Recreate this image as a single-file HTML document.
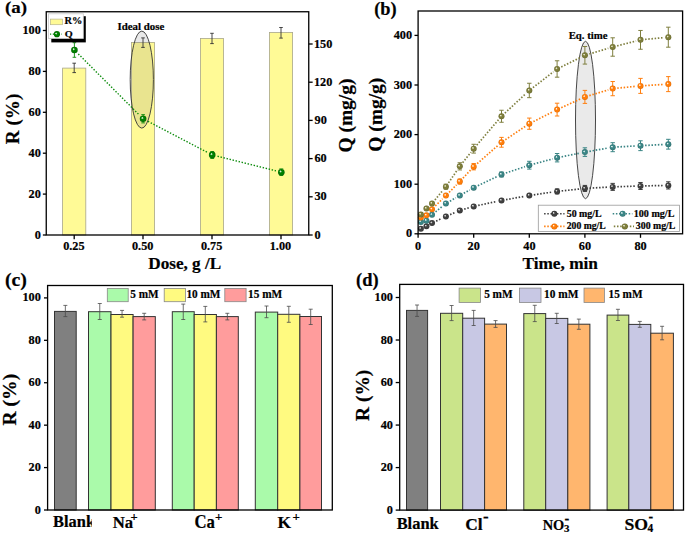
<!DOCTYPE html>
<html><head><meta charset="utf-8"><style>
html,body{margin:0;padding:0;background:#fff;}
svg{display:block;font-family:"Liberation Serif", serif;font-weight:bold;} text{stroke:#000;stroke-width:0.2px;}
</style></head><body>
<svg width="685" height="534" viewBox="0 0 685 534">
<rect width="685" height="534" fill="#fff"/>
<defs><radialGradient id="gg" cx="0.5" cy="0.5" r="0.5" fx="0.34" fy="0.34"><stop offset="0" stop-color="#d8ecd8"/><stop offset="0.12" stop-color="#d8ecd8"/><stop offset="0.4" stop-color="#008000"/><stop offset="0.75" stop-color="#008000"/><stop offset="1" stop-color="#006000"/></radialGradient><radialGradient id="g300" cx="0.5" cy="0.5" r="0.5" fx="0.34" fy="0.34"><stop offset="0" stop-color="#e8e8d0"/><stop offset="0.12" stop-color="#e8e8d0"/><stop offset="0.4" stop-color="#7d7d3a"/><stop offset="0.75" stop-color="#7d7d3a"/><stop offset="1" stop-color="#66662c"/></radialGradient><radialGradient id="g200" cx="0.5" cy="0.5" r="0.5" fx="0.34" fy="0.34"><stop offset="0" stop-color="#fff0e0"/><stop offset="0.12" stop-color="#fff0e0"/><stop offset="0.4" stop-color="#ff7d0a"/><stop offset="0.75" stop-color="#ff7d0a"/><stop offset="1" stop-color="#e06800"/></radialGradient><radialGradient id="g100" cx="0.5" cy="0.5" r="0.5" fx="0.34" fy="0.34"><stop offset="0" stop-color="#e0f0f0"/><stop offset="0.12" stop-color="#e0f0f0"/><stop offset="0.4" stop-color="#3a8585"/><stop offset="0.75" stop-color="#3a8585"/><stop offset="1" stop-color="#2d6d6d"/></radialGradient><radialGradient id="g50" cx="0.5" cy="0.5" r="0.5" fx="0.34" fy="0.34"><stop offset="0" stop-color="#d8d8d8"/><stop offset="0.12" stop-color="#d8d8d8"/><stop offset="0.4" stop-color="#404040"/><stop offset="0.75" stop-color="#404040"/><stop offset="1" stop-color="#303030"/></radialGradient></defs>
<rect x="62.60" y="68.10" width="23.20" height="166.90" fill="#FFFA96" stroke="#A8A68A" stroke-width="0.8" />
<rect x="131.40" y="42.40" width="23.20" height="192.60" fill="#FFFA96" stroke="#A8A68A" stroke-width="0.8" />
<rect x="200.40" y="38.50" width="23.20" height="196.50" fill="#FFFA96" stroke="#A8A68A" stroke-width="0.8" />
<rect x="269.40" y="32.50" width="23.20" height="202.50" fill="#FFFA96" stroke="#A8A68A" stroke-width="0.8" />
<ellipse cx="141.8" cy="79.6" rx="11.6" ry="48.5" fill="rgba(110,110,110,0.15)" stroke="#333" stroke-width="0.9"/>
<path d="M74.20 63.20V72.60M72.40 63.20h3.60M72.40 72.60h3.60" stroke="#333" stroke-width="0.9" fill="none"/>
<path d="M143.00 37.90V47.40M141.20 37.90h3.60M141.20 47.40h3.60" stroke="#333" stroke-width="0.9" fill="none"/>
<path d="M212.00 33.30V43.60M210.20 33.30h3.60M210.20 43.60h3.60" stroke="#333" stroke-width="0.9" fill="none"/>
<path d="M281.00 27.50V38.10M279.20 27.50h3.60M279.20 38.10h3.60" stroke="#333" stroke-width="0.9" fill="none"/>
<path d="M78.29 53.89L139.21 114.91M147.97 121.35L207.33 152.35M217.54 156.24L275.96 170.86" fill="none" stroke="#0A8A0A" stroke-width="1.4" stroke-dasharray="1.4 1.7"/>
<path d="M74.40 42.70V57.30M72.60 42.70h3.60M72.60 57.30h3.60" stroke="#0A8A0A" stroke-width="0.9" fill="none"/>
<path d="M143.10 114.60V122.90M141.30 114.60h3.60M141.30 122.90h3.60" stroke="#0A8A0A" stroke-width="0.9" fill="none"/>
<path d="M212.20 151.50V158.50M210.25 151.50h3.90M210.25 158.50h3.90" stroke="#0A8A0A" stroke-width="0.9" fill="none"/>
<path d="M281.30 168.90V175.50M279.35 168.90h3.90M279.35 175.50h3.90" stroke="#0A8A0A" stroke-width="0.9" fill="none"/>
<circle cx="74.40" cy="50.00" r="3.3" fill="url(#gg)"/>
<circle cx="143.10" cy="118.80" r="3.3" fill="url(#gg)"/>
<circle cx="212.20" cy="154.90" r="3.3" fill="url(#gg)"/>
<circle cx="281.30" cy="172.20" r="3.3" fill="url(#gg)"/>
<rect x="46.25" y="11.75" width="262.50" height="223.25" fill="none" stroke="#000" stroke-width="1.3" />
<line x1="42.85" y1="235.00" x2="46.25" y2="235.00" stroke="#000" stroke-width="1.3" />
<text transform="translate(34.75,238.52) scale(1.0400,1)" font-size="11.80" >0</text>
<line x1="42.85" y1="194.10" x2="46.25" y2="194.10" stroke="#000" stroke-width="1.3" />
<text transform="translate(28.62,197.62) scale(1.0400,1)" font-size="11.80" >20</text>
<line x1="42.85" y1="153.20" x2="46.25" y2="153.20" stroke="#000" stroke-width="1.3" />
<text transform="translate(28.62,156.72) scale(1.0400,1)" font-size="11.80" >40</text>
<line x1="42.85" y1="112.30" x2="46.25" y2="112.30" stroke="#000" stroke-width="1.3" />
<text transform="translate(28.62,115.82) scale(1.0400,1)" font-size="11.80" >60</text>
<line x1="42.85" y1="71.40" x2="46.25" y2="71.40" stroke="#000" stroke-width="1.3" />
<text transform="translate(28.62,74.92) scale(1.0400,1)" font-size="11.80" >80</text>
<line x1="42.85" y1="30.50" x2="46.25" y2="30.50" stroke="#000" stroke-width="1.3" />
<text transform="translate(22.48,34.02) scale(1.0400,1)" font-size="11.80" >100</text>
<line x1="308.75" y1="235.00" x2="312.65" y2="235.00" stroke="#000" stroke-width="1.3" />
<text transform="translate(314.41,238.52) scale(1.0400,1)" font-size="11.80" >0</text>
<line x1="308.75" y1="196.80" x2="312.65" y2="196.80" stroke="#000" stroke-width="1.3" />
<text transform="translate(314.47,200.32) scale(1.0400,1)" font-size="11.80" >30</text>
<line x1="308.75" y1="158.60" x2="312.65" y2="158.60" stroke="#000" stroke-width="1.3" />
<text transform="translate(314.47,162.12) scale(1.0400,1)" font-size="11.80" >60</text>
<line x1="308.75" y1="120.40" x2="312.65" y2="120.40" stroke="#000" stroke-width="1.3" />
<text transform="translate(314.59,123.92) scale(1.0400,1)" font-size="11.80" >90</text>
<line x1="308.75" y1="82.20" x2="312.65" y2="82.20" stroke="#000" stroke-width="1.3" />
<text transform="translate(313.92,85.72) scale(1.0400,1)" font-size="11.80" >120</text>
<line x1="308.75" y1="44.00" x2="312.65" y2="44.00" stroke="#000" stroke-width="1.3" />
<text transform="translate(313.92,47.52) scale(1.0400,1)" font-size="11.80" >150</text>
<line x1="74.20" y1="235.00" x2="74.20" y2="239.20" stroke="#000" stroke-width="1.3" />
<text transform="translate(63.13,250.40) scale(1.0400,1)" font-size="11.80" >0.25</text>
<line x1="143.00" y1="235.00" x2="143.00" y2="239.20" stroke="#000" stroke-width="1.3" />
<text transform="translate(131.96,250.40) scale(1.0400,1)" font-size="11.80" >0.50</text>
<line x1="212.00" y1="235.00" x2="212.00" y2="239.20" stroke="#000" stroke-width="1.3" />
<text transform="translate(200.93,250.40) scale(1.0400,1)" font-size="11.80" >0.75</text>
<line x1="281.00" y1="235.00" x2="281.00" y2="239.20" stroke="#000" stroke-width="1.3" />
<text transform="translate(269.72,250.40) scale(1.0400,1)" font-size="11.80" >1.00</text>
<rect x="51.30" y="16.20" width="34.50" height="26.20" fill="#000" stroke="none" stroke-width="1" />
<rect x="48.40" y="13.80" width="34.90" height="24.70" fill="#fff" stroke="#c8c8c8" stroke-width="0.8" />
<rect x="50.40" y="19.10" width="12.20" height="5.60" fill="#FFFA96" stroke="#B8B690" stroke-width="0.7" />
<text transform="translate(64.45,23.90) scale(1.0713,1)" font-size="9.62" >R%</text>
<line x1="50" y1="34.2" x2="61.7" y2="34.2" stroke="#0A8A0A" stroke-width="1.2" stroke-dasharray="1.2 1.6"/>
<circle cx="56.90" cy="34.20" r="3.1" fill="url(#gg)"/>
<text transform="translate(64.69,36.80) scale(1.1241,1)" font-size="9.09" >Q</text>
<text transform="translate(117.42,29.80) scale(1.0107,1)" font-size="10.79" >Ideal dose</text>
<text transform="translate(4.95,13.30) scale(1.0729,1)" font-size="17.69" >(a)</text>
<text transform="translate(18.50,144.19) rotate(-90) scale(1.0316,1)" font-size="18.56" >R (%)</text>
<text transform="translate(148.24,268.70) scale(1.0503,1)" font-size="16.36" >Dose, g /L</text>
<text transform="translate(352.30,152.57) rotate(-90) scale(1.0031,1)" font-size="19.40" >Q (mg/g)</text>
<ellipse cx="585.5" cy="120" rx="10" ry="78.7" fill="rgba(150,150,150,0.2)" stroke="#333" stroke-width="0.9"/>
<text transform="translate(568.64,38.80)" font-size="10.79" >Eq. time</text>
<path d="M436.16 221.11L441.74 218.46M450.11 214.64L455.59 212.24M464.22 209.13L469.28 207.68M478.20 205.45L497.00 201.39M506.03 199.62L524.77 196.31M533.85 194.83L552.55 192.07M561.67 190.90L580.33 188.91M589.49 188.16L608.11 187.13M617.30 186.73L635.90 186.13M645.10 185.89L663.70 185.49" fill="none" stroke="#3F3F3F" stroke-width="1.7" stroke-dasharray="1.5 1.7"/>
<path d="M557.10 188.89V193.89M554.90 188.89h4.40M554.90 193.89h4.40" stroke="#3F3F3F" stroke-width="1.0" fill="none"/>
<path d="M584.90 185.42V191.42M582.70 185.42h4.40M582.70 191.42h4.40" stroke="#3F3F3F" stroke-width="1.0" fill="none"/>
<path d="M612.70 183.38V190.38M610.50 183.38h4.40M610.50 190.38h4.40" stroke="#3F3F3F" stroke-width="1.0" fill="none"/>
<path d="M640.50 182.49V189.49M638.30 182.49h4.40M638.30 189.49h4.40" stroke="#3F3F3F" stroke-width="1.0" fill="none"/>
<path d="M668.30 181.79V188.99M666.10 181.79h4.40M666.10 188.99h4.40" stroke="#3F3F3F" stroke-width="1.0" fill="none"/>
<circle cx="420.88" cy="228.69" r="3.0" fill="url(#g50)"/>
<circle cx="426.44" cy="226.21" r="3.0" fill="url(#g50)"/>
<circle cx="432.00" cy="223.09" r="3.0" fill="url(#g50)"/>
<circle cx="445.90" cy="216.49" r="3.0" fill="url(#g50)"/>
<circle cx="459.80" cy="210.39" r="3.0" fill="url(#g50)"/>
<circle cx="473.70" cy="206.42" r="3.0" fill="url(#g50)"/>
<circle cx="501.50" cy="200.42" r="3.0" fill="url(#g50)"/>
<circle cx="529.30" cy="195.51" r="3.0" fill="url(#g50)"/>
<circle cx="557.10" cy="191.39" r="3.0" fill="url(#g50)"/>
<circle cx="584.90" cy="188.42" r="3.0" fill="url(#g50)"/>
<circle cx="612.70" cy="186.88" r="3.0" fill="url(#g50)"/>
<circle cx="640.50" cy="185.99" r="3.0" fill="url(#g50)"/>
<circle cx="668.30" cy="185.39" r="3.0" fill="url(#g50)"/>
<path d="M435.56 211.88L442.34 206.31M449.91 201.15L455.79 197.86M463.79 193.33L469.71 189.95M477.86 185.70L497.34 176.45M505.86 173.02L524.94 166.66M533.74 164.01L552.66 158.91M561.61 156.80L580.39 153.02M589.43 151.31L608.17 148.00M617.29 146.95L635.91 145.96M645.09 145.46L663.71 144.47" fill="none" stroke="#3A8585" stroke-width="1.7" stroke-dasharray="1.5 1.7"/>
<path d="M501.50 171.98V176.98M499.30 171.98h4.40M499.30 176.98h4.40" stroke="#3A8585" stroke-width="1.0" fill="none"/>
<path d="M529.30 161.30V169.10M527.10 161.30h4.40M527.10 169.10h4.40" stroke="#3A8585" stroke-width="1.0" fill="none"/>
<path d="M557.10 153.51V161.91M554.90 153.51h4.40M554.90 161.91h4.40" stroke="#3A8585" stroke-width="1.0" fill="none"/>
<path d="M584.90 147.81V156.41M582.70 147.81h4.40M582.70 156.41h4.40" stroke="#3A8585" stroke-width="1.0" fill="none"/>
<path d="M612.70 142.70V151.70M610.50 142.70h4.40M610.50 151.70h4.40" stroke="#3A8585" stroke-width="1.0" fill="none"/>
<path d="M640.50 140.81V150.61M638.30 140.81h4.40M638.30 150.61h4.40" stroke="#3A8585" stroke-width="1.0" fill="none"/>
<path d="M668.30 139.32V149.12M666.10 139.32h4.40M666.10 149.12h4.40" stroke="#3A8585" stroke-width="1.0" fill="none"/>
<circle cx="420.88" cy="221.90" r="3.0" fill="url(#g100)"/>
<circle cx="426.44" cy="220.71" r="3.0" fill="url(#g100)"/>
<circle cx="432.00" cy="214.80" r="3.0" fill="url(#g100)"/>
<circle cx="445.90" cy="203.40" r="3.0" fill="url(#g100)"/>
<circle cx="459.80" cy="195.61" r="3.0" fill="url(#g100)"/>
<circle cx="473.70" cy="187.67" r="3.0" fill="url(#g100)"/>
<circle cx="501.50" cy="174.48" r="3.0" fill="url(#g100)"/>
<circle cx="529.30" cy="165.20" r="3.0" fill="url(#g100)"/>
<circle cx="557.10" cy="157.71" r="3.0" fill="url(#g100)"/>
<circle cx="584.90" cy="152.11" r="3.0" fill="url(#g100)"/>
<circle cx="612.70" cy="147.20" r="3.0" fill="url(#g100)"/>
<circle cx="640.50" cy="145.71" r="3.0" fill="url(#g100)"/>
<circle cx="668.30" cy="144.22" r="3.0" fill="url(#g100)"/>
<path d="M435.29 205.98L442.61 198.82M449.13 192.33L456.57 184.80M462.95 178.17L470.55 170.05M477.16 163.66L498.04 145.32M505.32 139.73L525.48 126.25M533.40 121.61L553.00 111.68M561.28 107.69L580.72 98.82M589.31 95.59L608.29 89.93M617.28 88.17L635.92 86.34M645.09 85.60L663.71 84.40" fill="none" stroke="#FF7F0F" stroke-width="1.7" stroke-dasharray="1.5 1.7"/>
<path d="M459.80 179.02V184.02M457.60 179.02h4.40M457.60 184.02h4.40" stroke="#FF7F0F" stroke-width="1.0" fill="none"/>
<path d="M473.70 163.49V169.89M471.50 163.49h4.40M471.50 169.89h4.40" stroke="#FF7F0F" stroke-width="1.0" fill="none"/>
<path d="M501.50 137.39V147.19M499.30 137.39h4.40M499.30 147.19h4.40" stroke="#FF7F0F" stroke-width="1.0" fill="none"/>
<path d="M529.30 118.09V129.29M527.10 118.09h4.40M527.10 129.29h4.40" stroke="#FF7F0F" stroke-width="1.0" fill="none"/>
<path d="M557.10 103.20V116.00M554.90 103.20h4.40M554.90 116.00h4.40" stroke="#FF7F0F" stroke-width="1.0" fill="none"/>
<path d="M584.90 90.40V103.40M582.70 90.40h4.40M582.70 103.40h4.40" stroke="#FF7F0F" stroke-width="1.0" fill="none"/>
<path d="M612.70 81.52V95.72M610.50 81.52h4.40M610.50 95.72h4.40" stroke="#FF7F0F" stroke-width="1.0" fill="none"/>
<path d="M640.50 78.39V93.39M638.30 78.39h4.40M638.30 93.39h4.40" stroke="#FF7F0F" stroke-width="1.0" fill="none"/>
<path d="M668.30 76.61V91.61M666.10 76.61h4.40M666.10 91.61h4.40" stroke="#FF7F0F" stroke-width="1.0" fill="none"/>
<circle cx="420.88" cy="217.43" r="3.0" fill="url(#g200)"/>
<circle cx="426.44" cy="215.30" r="3.0" fill="url(#g200)"/>
<circle cx="432.00" cy="209.20" r="3.0" fill="url(#g200)"/>
<circle cx="445.90" cy="195.61" r="3.0" fill="url(#g200)"/>
<circle cx="459.80" cy="181.52" r="3.0" fill="url(#g200)"/>
<circle cx="473.70" cy="166.69" r="3.0" fill="url(#g200)"/>
<circle cx="501.50" cy="142.29" r="3.0" fill="url(#g200)"/>
<circle cx="529.30" cy="123.69" r="3.0" fill="url(#g200)"/>
<circle cx="557.10" cy="109.60" r="3.0" fill="url(#g200)"/>
<circle cx="584.90" cy="96.90" r="3.0" fill="url(#g200)"/>
<circle cx="612.70" cy="88.62" r="3.0" fill="url(#g200)"/>
<circle cx="640.50" cy="85.89" r="3.0" fill="url(#g200)"/>
<circle cx="668.30" cy="84.11" r="3.0" fill="url(#g200)"/>
<path d="M434.93 199.99L442.97 190.23M448.50 182.88L457.20 170.14M462.65 162.73L470.85 152.30M476.69 145.19L498.51 119.74M504.87 113.12L525.93 93.58M532.94 87.64L553.46 71.79M561.23 66.95L580.77 57.32M589.31 53.98L608.29 48.32M617.16 45.86L636.04 41.01M645.08 39.42L663.72 37.63" fill="none" stroke="#7F7F3F" stroke-width="1.7" stroke-dasharray="1.5 1.7"/>
<path d="M445.90 184.18V189.18M443.70 184.18h4.40M443.70 189.18h4.40" stroke="#7F7F3F" stroke-width="1.0" fill="none"/>
<path d="M459.80 162.74V169.94M457.60 162.74h4.40M457.60 169.94h4.40" stroke="#7F7F3F" stroke-width="1.0" fill="none"/>
<path d="M473.70 144.29V153.09M471.50 144.29h4.40M471.50 153.09h4.40" stroke="#7F7F3F" stroke-width="1.0" fill="none"/>
<path d="M501.50 110.25V122.25M499.30 110.25h4.40M499.30 122.25h4.40" stroke="#7F7F3F" stroke-width="1.0" fill="none"/>
<path d="M529.30 83.26V97.66M527.10 83.26h4.40M527.10 97.66h4.40" stroke="#7F7F3F" stroke-width="1.0" fill="none"/>
<path d="M557.10 60.78V77.18M554.90 60.78h4.40M554.90 77.18h4.40" stroke="#7F7F3F" stroke-width="1.0" fill="none"/>
<path d="M584.90 46.49V64.09M582.70 46.49h4.40M582.70 64.09h4.40" stroke="#7F7F3F" stroke-width="1.0" fill="none"/>
<path d="M612.70 37.81V56.21M610.50 37.81h4.40M610.50 56.21h4.40" stroke="#7F7F3F" stroke-width="1.0" fill="none"/>
<path d="M640.50 30.46V49.26M638.30 30.46h4.40M638.30 49.26h4.40" stroke="#7F7F3F" stroke-width="1.0" fill="none"/>
<path d="M668.30 27.19V47.19M666.10 27.19h4.40M666.10 47.19h4.40" stroke="#7F7F3F" stroke-width="1.0" fill="none"/>
<circle cx="420.88" cy="214.46" r="3.0" fill="url(#g300)"/>
<circle cx="426.44" cy="208.50" r="3.0" fill="url(#g300)"/>
<circle cx="432.00" cy="203.54" r="3.0" fill="url(#g300)"/>
<circle cx="445.90" cy="186.68" r="3.0" fill="url(#g300)"/>
<circle cx="459.80" cy="166.34" r="3.0" fill="url(#g300)"/>
<circle cx="473.70" cy="148.69" r="3.0" fill="url(#g300)"/>
<circle cx="501.50" cy="116.25" r="3.0" fill="url(#g300)"/>
<circle cx="529.30" cy="90.46" r="3.0" fill="url(#g300)"/>
<circle cx="557.10" cy="68.98" r="3.0" fill="url(#g300)"/>
<circle cx="584.90" cy="55.29" r="3.0" fill="url(#g300)"/>
<circle cx="612.70" cy="47.01" r="3.0" fill="url(#g300)"/>
<circle cx="640.50" cy="39.86" r="3.0" fill="url(#g300)"/>
<circle cx="668.30" cy="37.19" r="3.0" fill="url(#g300)"/>
<rect x="538.30" y="205.20" width="141.20" height="26.30" fill="#fff" stroke="#999" stroke-width="0.8" />
<line x1="544.1" y1="213.7" x2="564.5" y2="213.7" stroke="#3F3F3F" stroke-width="1.6" stroke-dasharray="1.5 1.7"/>
<circle cx="554.30" cy="213.70" r="3.0" fill="url(#g50)"/>
<text transform="translate(566.70,216.70) scale(1.0341,1)" font-size="9.60" >50 mg/L</text>
<line x1="612.7" y1="213.7" x2="632.4" y2="213.7" stroke="#3A8585" stroke-width="1.6" stroke-dasharray="1.5 1.7"/>
<circle cx="622.60" cy="213.70" r="3.0" fill="url(#g100)"/>
<text transform="translate(633.79,216.70) scale(1.0510,1)" font-size="9.60" >100 mg/L</text>
<line x1="544.1" y1="226.4" x2="564.5" y2="226.4" stroke="#FF7F0F" stroke-width="1.6" stroke-dasharray="1.5 1.7"/>
<circle cx="554.30" cy="226.40" r="3.0" fill="url(#g200)"/>
<text transform="translate(566.71,229.40) scale(1.0113,1)" font-size="9.60" >200 mg/L</text>
<line x1="613.8" y1="226.4" x2="634" y2="226.4" stroke="#7F7F3F" stroke-width="1.6" stroke-dasharray="1.5 1.7"/>
<circle cx="624.80" cy="226.40" r="3.0" fill="url(#g300)"/>
<text transform="translate(635.86,229.40) scale(1.0232,1)" font-size="9.60" >300 mg/L</text>
<rect x="418.10" y="11.00" width="264.50" height="222.80" fill="none" stroke="#000" stroke-width="1.3" />
<line x1="414.50" y1="233.80" x2="418.10" y2="233.80" stroke="#000" stroke-width="1.3" />
<text transform="translate(405.95,237.32) scale(1.0400,1)" font-size="11.80" >0</text>
<line x1="414.50" y1="184.20" x2="418.10" y2="184.20" stroke="#000" stroke-width="1.3" />
<text transform="translate(393.68,187.72) scale(1.0400,1)" font-size="11.80" >100</text>
<line x1="414.50" y1="134.60" x2="418.10" y2="134.60" stroke="#000" stroke-width="1.3" />
<text transform="translate(393.68,138.12) scale(1.0400,1)" font-size="11.80" >200</text>
<line x1="414.50" y1="85.00" x2="418.10" y2="85.00" stroke="#000" stroke-width="1.3" />
<text transform="translate(393.68,88.52) scale(1.0400,1)" font-size="11.80" >300</text>
<line x1="414.50" y1="35.40" x2="418.10" y2="35.40" stroke="#000" stroke-width="1.3" />
<text transform="translate(393.68,38.92) scale(1.0400,1)" font-size="11.80" >400</text>
<line x1="418.10" y1="233.80" x2="418.10" y2="237.80" stroke="#000" stroke-width="1.3" />
<text transform="translate(415.03,250.00) scale(1.0400,1)" font-size="11.80" >0</text>
<line x1="473.70" y1="233.80" x2="473.70" y2="237.80" stroke="#000" stroke-width="1.3" />
<text transform="translate(467.56,250.00) scale(1.0400,1)" font-size="11.80" >20</text>
<line x1="529.30" y1="233.80" x2="529.30" y2="237.80" stroke="#000" stroke-width="1.3" />
<text transform="translate(523.32,250.00) scale(1.0400,1)" font-size="11.80" >40</text>
<line x1="584.90" y1="233.80" x2="584.90" y2="237.80" stroke="#000" stroke-width="1.3" />
<text transform="translate(578.79,250.00) scale(1.0400,1)" font-size="11.80" >60</text>
<line x1="640.50" y1="233.80" x2="640.50" y2="237.80" stroke="#000" stroke-width="1.3" />
<text transform="translate(634.39,250.00) scale(1.0400,1)" font-size="11.80" >80</text>
<text transform="translate(374.18,14.93) scale(1.0169,1)" font-size="18.02" >(b)</text>
<text transform="translate(522.44,269.20) scale(1.0265,1)" font-size="16.83" >Time, min</text>
<text transform="translate(381.60,151.77) rotate(-90) scale(1.0031,1)" font-size="19.40" >Q (mg/g)</text>
<rect x="54.50" y="311.40" width="21.70" height="198.60" fill="#808080" stroke="#333" stroke-width="1.0" />
<rect x="88.50" y="311.70" width="22.50" height="198.30" fill="#AAFAAA" stroke="#333" stroke-width="1.0" />
<rect x="111.00" y="314.50" width="22.10" height="195.50" fill="#FFFA80" stroke="#333" stroke-width="1.0" />
<rect x="133.10" y="316.60" width="22.20" height="193.40" fill="#FF9C9C" stroke="#333" stroke-width="1.0" />
<rect x="172.30" y="311.70" width="21.90" height="198.30" fill="#AAFAAA" stroke="#333" stroke-width="1.0" />
<rect x="194.20" y="314.50" width="22.20" height="195.50" fill="#FFFA80" stroke="#333" stroke-width="1.0" />
<rect x="216.40" y="316.60" width="21.90" height="193.40" fill="#FF9C9C" stroke="#333" stroke-width="1.0" />
<rect x="255.30" y="312.10" width="22.40" height="197.90" fill="#AAFAAA" stroke="#333" stroke-width="1.0" />
<rect x="277.70" y="314.30" width="22.20" height="195.70" fill="#FFFA80" stroke="#333" stroke-width="1.0" />
<rect x="299.90" y="316.50" width="21.60" height="193.50" fill="#FF9C9C" stroke="#333" stroke-width="1.0" />
<path d="M65.35 305.40V316.60M63.35 305.40h4.00M63.35 316.60h4.00" stroke="#4a4a4a" stroke-width="0.8" fill="none"/>
<path d="M99.75 303.50V319.50M97.75 303.50h4.00M97.75 319.50h4.00" stroke="#4a4a4a" stroke-width="0.8" fill="none"/>
<path d="M122.05 310.40V317.20M120.05 310.40h4.00M120.05 317.20h4.00" stroke="#4a4a4a" stroke-width="0.8" fill="none"/>
<path d="M144.20 313.30V319.90M142.20 313.30h4.00M142.20 319.90h4.00" stroke="#4a4a4a" stroke-width="0.8" fill="none"/>
<path d="M183.25 304.10V319.50M181.25 304.10h4.00M181.25 319.50h4.00" stroke="#4a4a4a" stroke-width="0.8" fill="none"/>
<path d="M205.30 306.40V321.90M203.30 306.40h4.00M203.30 321.90h4.00" stroke="#4a4a4a" stroke-width="0.8" fill="none"/>
<path d="M227.35 313.30V319.90M225.35 313.30h4.00M225.35 319.90h4.00" stroke="#4a4a4a" stroke-width="0.8" fill="none"/>
<path d="M266.50 306.00V317.70M264.50 306.00h4.00M264.50 317.70h4.00" stroke="#4a4a4a" stroke-width="0.8" fill="none"/>
<path d="M288.80 306.30V322.30M286.80 306.30h4.00M286.80 322.30h4.00" stroke="#4a4a4a" stroke-width="0.8" fill="none"/>
<path d="M310.70 309.20V324.50M308.70 309.20h4.00M308.70 324.50h4.00" stroke="#4a4a4a" stroke-width="0.8" fill="none"/>
<rect x="47.60" y="285.50" width="284.70" height="224.50" fill="none" stroke="#000" stroke-width="1.3" />
<line x1="44.00" y1="510.00" x2="47.60" y2="510.00" stroke="#000" stroke-width="1.3" />
<text transform="translate(34.75,513.52) scale(1.0400,1)" font-size="11.80" >0</text>
<line x1="44.00" y1="467.58" x2="47.60" y2="467.58" stroke="#000" stroke-width="1.3" />
<text transform="translate(28.62,471.10) scale(1.0400,1)" font-size="11.80" >20</text>
<line x1="44.00" y1="425.16" x2="47.60" y2="425.16" stroke="#000" stroke-width="1.3" />
<text transform="translate(28.62,428.68) scale(1.0400,1)" font-size="11.80" >40</text>
<line x1="44.00" y1="382.74" x2="47.60" y2="382.74" stroke="#000" stroke-width="1.3" />
<text transform="translate(28.62,386.26) scale(1.0400,1)" font-size="11.80" >60</text>
<line x1="44.00" y1="340.32" x2="47.60" y2="340.32" stroke="#000" stroke-width="1.3" />
<text transform="translate(28.62,343.84) scale(1.0400,1)" font-size="11.80" >80</text>
<line x1="44.00" y1="297.90" x2="47.60" y2="297.90" stroke="#000" stroke-width="1.3" />
<text transform="translate(22.48,301.42) scale(1.0400,1)" font-size="11.80" >100</text>
<rect x="107.30" y="288.40" width="20.90" height="13.30" fill="#AAFAAA" stroke="#888" stroke-width="0.8" />
<text transform="translate(130.25,297.90) scale(0.9544,1)" font-size="11.76" >5 mM</text>
<rect x="164.20" y="288.40" width="21.20" height="13.30" fill="#FFFA80" stroke="#888" stroke-width="0.8" />
<text transform="translate(186.40,297.90) scale(0.9731,1)" font-size="11.58" >10 mM</text>
<rect x="224.80" y="288.40" width="21.30" height="13.30" fill="#FF9C9C" stroke="#888" stroke-width="0.8" />
<text transform="translate(248.10,297.90) scale(0.9687,1)" font-size="11.67" >15 mM</text>
<clipPath id="clipc"><rect x="0" y="500" width="91.8" height="34"/></clipPath>
<g clip-path="url(#clipc)">
<text transform="translate(53.05,526.60) scale(1.0285,1)" font-size="16.00" >Blank</text>
</g>
<text transform="translate(112.67,527.90) scale(0.9772,1)" font-size="17.10" >Na</text>
<text transform="translate(130.47,520.85) scale(1.0351,1)" font-size="12.13" >+</text>
<text transform="translate(194.46,528.00) scale(0.9162,1)" font-size="18.33" >Ca</text>
<text transform="translate(215.05,521.33)" font-size="12.98" >+</text>
<text transform="translate(277.44,527.90) scale(1.0225,1)" font-size="17.10" >K</text>
<text transform="translate(292.45,521.15) scale(0.9839,1)" font-size="13.19" >+</text>
<text transform="translate(4.91,285.85) scale(1.0791,1)" font-size="18.35" >(c)</text>
<text transform="translate(16.00,425.49) rotate(-90) scale(1.0322,1)" font-size="19.00" >R (%)</text>
<rect x="406.50" y="310.40" width="21.10" height="199.70" fill="#808080" stroke="#333" stroke-width="1.0" />
<rect x="440.50" y="313.30" width="22.20" height="196.80" fill="#CAE48A" stroke="#333" stroke-width="1.0" />
<rect x="462.70" y="318.20" width="21.90" height="191.90" fill="#C8C8E4" stroke="#333" stroke-width="1.0" />
<rect x="484.60" y="324.10" width="21.90" height="186.00" fill="#FFB66E" stroke="#333" stroke-width="1.0" />
<rect x="523.80" y="313.60" width="21.90" height="196.50" fill="#CAE48A" stroke="#333" stroke-width="1.0" />
<rect x="545.70" y="318.40" width="22.10" height="191.70" fill="#C8C8E4" stroke="#333" stroke-width="1.0" />
<rect x="567.80" y="324.20" width="22.10" height="185.90" fill="#FFB66E" stroke="#333" stroke-width="1.0" />
<rect x="607.10" y="315.10" width="21.70" height="195.00" fill="#CAE48A" stroke="#333" stroke-width="1.0" />
<rect x="628.80" y="324.40" width="22.00" height="185.70" fill="#C8C8E4" stroke="#333" stroke-width="1.0" />
<rect x="650.80" y="333.20" width="22.60" height="176.90" fill="#FFB66E" stroke="#333" stroke-width="1.0" />
<path d="M417.05 305.00V316.40M415.05 305.00h4.00M415.05 316.40h4.00" stroke="#4a4a4a" stroke-width="0.8" fill="none"/>
<path d="M451.60 305.50V320.60M449.60 305.50h4.00M449.60 320.60h4.00" stroke="#4a4a4a" stroke-width="0.8" fill="none"/>
<path d="M473.65 310.40V325.50M471.65 310.40h4.00M471.65 325.50h4.00" stroke="#4a4a4a" stroke-width="0.8" fill="none"/>
<path d="M495.55 320.60V327.40M493.55 320.60h4.00M493.55 327.40h4.00" stroke="#4a4a4a" stroke-width="0.8" fill="none"/>
<path d="M534.75 305.30V321.60M532.75 305.30h4.00M532.75 321.60h4.00" stroke="#4a4a4a" stroke-width="0.8" fill="none"/>
<path d="M556.75 313.30V323.50M554.75 313.30h4.00M554.75 323.50h4.00" stroke="#4a4a4a" stroke-width="0.8" fill="none"/>
<path d="M578.85 319.10V329.30M576.85 319.10h4.00M576.85 329.30h4.00" stroke="#4a4a4a" stroke-width="0.8" fill="none"/>
<path d="M617.95 309.30V320.50M615.95 309.30h4.00M615.95 320.50h4.00" stroke="#4a4a4a" stroke-width="0.8" fill="none"/>
<path d="M639.80 321.40V327.30M637.80 321.40h4.00M637.80 327.30h4.00" stroke="#4a4a4a" stroke-width="0.8" fill="none"/>
<path d="M662.10 326.30V339.80M660.10 326.30h4.00M660.10 339.80h4.00" stroke="#4a4a4a" stroke-width="0.8" fill="none"/>
<rect x="399.70" y="284.40" width="283.80" height="225.70" fill="none" stroke="#000" stroke-width="1.3" />
<line x1="395.70" y1="510.10" x2="399.70" y2="510.10" stroke="#000" stroke-width="1.3" />
<text transform="translate(386.85,513.62) scale(1.0400,1)" font-size="11.80" >0</text>
<line x1="395.70" y1="467.58" x2="399.70" y2="467.58" stroke="#000" stroke-width="1.3" />
<text transform="translate(380.72,471.10) scale(1.0400,1)" font-size="11.80" >20</text>
<line x1="395.70" y1="425.06" x2="399.70" y2="425.06" stroke="#000" stroke-width="1.3" />
<text transform="translate(380.72,428.58) scale(1.0400,1)" font-size="11.80" >40</text>
<line x1="395.70" y1="382.54" x2="399.70" y2="382.54" stroke="#000" stroke-width="1.3" />
<text transform="translate(380.72,386.06) scale(1.0400,1)" font-size="11.80" >60</text>
<line x1="395.70" y1="340.02" x2="399.70" y2="340.02" stroke="#000" stroke-width="1.3" />
<text transform="translate(380.72,343.54) scale(1.0400,1)" font-size="11.80" >80</text>
<line x1="395.70" y1="297.50" x2="399.70" y2="297.50" stroke="#000" stroke-width="1.3" />
<text transform="translate(374.58,301.02) scale(1.0400,1)" font-size="11.80" >100</text>
<rect x="459.10" y="288.10" width="21.40" height="14.40" fill="#CAE48A" stroke="#888" stroke-width="0.8" />
<text transform="translate(484.15,297.90) scale(0.9613,1)" font-size="11.76" >5 mM</text>
<rect x="519.40" y="288.10" width="21.60" height="14.40" fill="#C8C8E4" stroke="#888" stroke-width="0.8" />
<text transform="translate(543.99,297.90) scale(0.9819,1)" font-size="11.58" >10 mM</text>
<rect x="584.00" y="288.10" width="20.40" height="14.40" fill="#FFB66E" stroke="#888" stroke-width="0.8" />
<text transform="translate(608.60,297.90) scale(0.9628,1)" font-size="11.67" >15 mM</text>
<text transform="translate(396.65,529.10) scale(1.0158,1)" font-size="16.20" >Blank</text>
<text transform="translate(465.13,529.80) scale(1.0527,1)" font-size="16.55" >Cl</text>
<text transform="translate(483.01,522.01) scale(1.0275,1)" font-size="16.47" >-</text>
<text transform="translate(542.71,529.90) scale(0.9508,1)" font-size="15.15" >NO</text>
<text transform="translate(563.92,532.49) scale(1.0171,1)" font-size="10.75" >3</text>
<text transform="translate(564.60,524.14) scale(0.8064,1)" font-size="17.65" >-</text>
<text transform="translate(624.43,529.90) scale(1.0084,1)" font-size="17.58" >SO</text>
<text transform="translate(647.53,532.20) scale(0.9898,1)" font-size="11.52" >4</text>
<text transform="translate(648.62,522.24) scale(0.7846,1)" font-size="17.65" >-</text>
<text transform="translate(356.07,286.37) scale(1.0344,1)" font-size="17.80" >(d)</text>
<text transform="translate(369.30,420.89) rotate(-90) scale(1.0220,1)" font-size="19.00" >R (%)</text>
</svg>
</body></html>
